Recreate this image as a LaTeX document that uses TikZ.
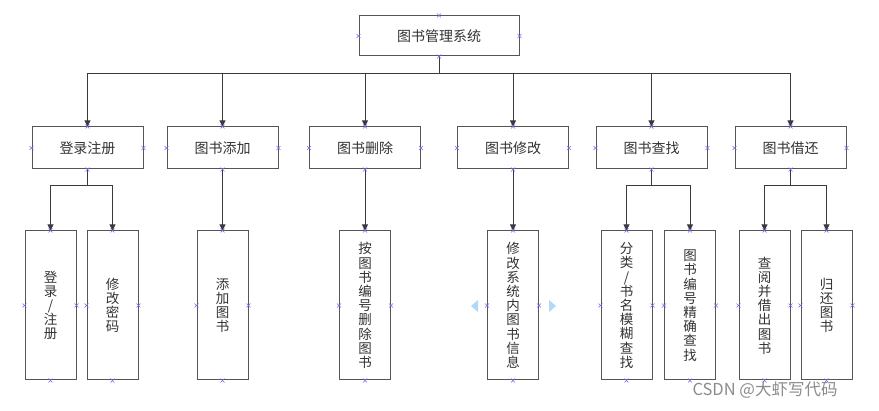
\documentclass[tikz,border=0pt]{standalone}
\usepackage{fontspec}
\newfontfamily\cjk{Noto Sans CJK SC}
\usetikzlibrary{arrows.meta}
\definecolor{boxgray}{HTML}{555555}
\definecolor{linegray}{HTML}{3A3A3A}
\definecolor{txtgray}{HTML}{333333}
\definecolor{markblue}{HTML}{6F6FF0}
\definecolor{handle}{HTML}{B3D7F5}
\begin{document}
\begin{tikzpicture}[x=1pt,y=-1pt,
  hbox/.style={draw=boxgray, line width=1pt, fill=white, inner sep=0pt,
    minimum width=111pt, minimum height=42pt, text=txtgray,
    font=\cjk\fontsize{14}{15}\selectfont},
  vbox/.style={draw=boxgray, line width=1pt, fill=white, inner sep=0pt,
    minimum width=51pt, minimum height=149pt, text=txtgray, align=center,
    font=\cjk\fontsize{13.5}{14.2}\selectfont},
  arr/.style={draw=linegray, line width=0.9pt, -{Triangle[width=6pt,length=6pt]}},
  cm/.pic={\draw[markblue, line width=0.6pt] (-2,-2)--(2,2) (-2,2)--(2,-2);}
]
\useasboundingbox[fill=white] (0,0) rectangle (879,411);

% top
\node[hbox, minimum width=160pt, minimum height=40pt] (top) at (439,36) {图书管理系统};

% level 2
\node[hbox] (a) at (87.5,148) {登录注册};
\node[hbox] (b) at (222.5,148) {图书添加};
\node[hbox] (c) at (365,148) {图书删除};
\node[hbox] (d) at (513,148) {图书修改};
\node[hbox] (e) at (651.5,148) {图书查找};
\node[hbox] (f) at (790.5,148) {图书借还};

% level 3
\node[vbox] (a1) at (50.5,305.5) {登\\录\\/\\注\\册};
\node[vbox] (a2) at (112.5,305.5) {修\\改\\密\\码};
\node[vbox] (b1) at (222.5,305.5) {添\\加\\图\\书};
\node[vbox] (c1) at (365,305.5) {按\\图\\书\\编\\号\\删\\除\\图\\书};
\node[vbox] (d1) at (513,305.5) {修\\改\\系\\统\\内\\图\\书\\信\\息};
\node[vbox] (e1) at (626.5,305.5) {分\\类\\/\\书\\名\\模\\糊\\查\\找};
\node[vbox] (e2) at (690,305.5) {图\\书\\编\\号\\精\\确\\查\\找};
\node[vbox] (f1) at (764.5,305.5) {查\\阅\\并\\借\\出\\图\\书};
\node[vbox] (f2) at (826.5,305.5) {归\\还\\图\\书};

% junction coordinates
\coordinate (bus) at (439,73);
\coordinate (ja) at (87.5,185);
\coordinate (je) at (651.5,185);
\coordinate (jf) at (790.5,185);

% connectors level 1 -> 2
\foreach \n in {a,b,c,d,e,f}
  \draw[arr] (top.south) -- (bus) -| (\n.north);

% connectors level 2 -> 3
\draw[arr] (a.south) -- (ja) -| (a1.north);
\draw[arr] (a.south) -- (ja) -| (a2.north);
\draw[arr] (b.south) -- (b1.north);
\draw[arr] (c.south) -- (c1.north);
\draw[arr] (d.south) -- (d1.north);
\draw[arr] (e.south) -- (je) -| (e1.north);
\draw[arr] (e.south) -- (je) -| (e2.north);
\draw[arr] (f.south) -- (jf) -| (f1.north);
\draw[arr] (f.south) -- (jf) -| (f2.north);

% connection point marks
\foreach \n in {top,a,b,c,d,e,f,a1,a2,b1,c1,d1,e1,e2,f1,f2}
  \foreach \an in {north,south,east,west}
    \pic at (\n.\an) {cm};

% selection handles
\fill[handle] (478,300) -- (471,306) -- (478,312) -- cycle;
\fill[handle] (549,300) -- (556,306) -- (549,312) -- cycle;

% watermark
\node[text=black!45, font=\cjk\fontsize{16.5}{17}\selectfont, inner sep=0pt] (wm) at (765,390) {CSDN @大虾写代码};
\end{tikzpicture}
\end{document}
